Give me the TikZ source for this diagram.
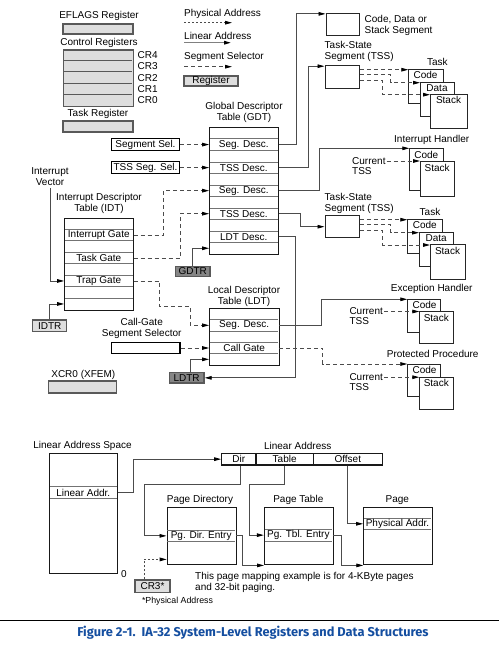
\documentclass[tikz,border=0pt]{standalone}
\usepackage{fontspec}
\setmainfont{Liberation Sans}
\newfontfamily\capfont{Fira Sans}
\usetikzlibrary{arrows.meta}
\definecolor{capblue}{RGB}{20,78,160}
\begin{document}
\begin{tikzpicture}[x=1pt,y=-1pt,
  lbl/.style={font=\fontsize{10}{11}\selectfont, inner sep=0pt, align=center},
  small/.style={font=\fontsize{8.8}{10}\selectfont, inner sep=0pt},
  reg/.style={draw=black!65, line width=1.4pt, fill=black!13, inner sep=0pt, font=\fontsize{10}{11}\selectfont},
  regd/.style={reg, fill=black!48},
  regsep/.style={draw=black!65, line width=1pt},
  tbl/.style={draw=black!90, line width=1.1pt, fill=white, inner sep=0pt},
  sep/.style={draw=black!55, line width=0.7pt},
  cell/.style={lbl, minimum width=69pt, minimum height=10pt},
  seg/.style={draw=black!85, line width=1pt, fill=white, inner sep=0pt},
  selb/.style={draw=black, line width=1.1pt, fill=white, inner sep=0pt, font=\fontsize{10}{11}\selectfont},
  lin/.style={draw=black!70, line width=0.85pt, -{Triangle[length=7pt,width=3.6pt,color=black]}},
  ss/.style={lin, dash pattern=on 4pt off 3pt},
  ph/.style={lin, dash pattern=on 2pt off 2pt}]
\useasboundingbox (0,0) rectangle (499,648);
\fill[white] (0,0) rectangle (499,648);

% ---------- registers (top left)
\node[lbl] (eflL) at (99,16) {EFLAGS Register};
\node[reg, minimum width=70pt, minimum height=10pt] (efl) at (98,29) {};
\node[lbl] (crL) at (99,42.5) {Control Registers};
\node[reg, minimum width=70pt, minimum height=56.7pt, anchor=north west] (cr) at (63,49.3) {};
\foreach \k in {1,...,4} \draw[regsep] (63.7,{49.3+\k*11.34}) -- (132.3,{49.3+\k*11.34});
\foreach \lab [count=\k from 0] in {CR4,CR3,CR2,CR1,CR0}
  \node[lbl, anchor=west] (crl\k) at (137.5,{49.3+(\k+0.5)*11.34}) {\lab};
\node[lbl] (trL) at (98,114) {Task Register};
\node[reg, minimum width=70pt, minimum height=11pt] (tr) at (98,126.5) {};

% ---------- legend
\node[lbl, anchor=west] (lg1) at (184,14) {Physical Address};
\coordinate (lp1) at (184,22.7); \coordinate (lp2) at (232,22.7);
\draw[ph] (lp1) -- (lp2);
\node[lbl, anchor=west] (lg2) at (184,35.5) {Linear Address};
\coordinate (ll1) at (184,42.7); \coordinate (ll2) at (231,42.7);
\draw[lin, draw=black!50, line width=1.3pt] (ll1) -- (ll2);
\node[lbl, anchor=west] (lg3) at (184,57) {Segment Selector};
\coordinate (ls1) at (184,66.7); \coordinate (ls2) at (232,66.7);
\draw[ss] (ls1) -- (ls2);
\node[reg, minimum width=54pt, minimum height=10pt] (lgreg) at (211,81) {Register};

% ---------- code/data/stack segment and top TSS
\node[seg, minimum width=33.3pt, minimum height=21.7pt] (cds) at (342.7,24.2) {};
\node[lbl, anchor=west, align=left] (cdsL) at (364.5,25.7) {Code, Data or\\Stack Segment};
\node[lbl, anchor=west, align=left] (tss1L) at (324.5,51.7) {Task-State\\Segment (TSS)};
\node[seg, minimum width=34.3pt, minimum height=22.6pt] (tss1) at (342.15,77) {};
\node[lbl] (task1L) at (437.3,61.5) {Task};
\node[seg, minimum width=34.4pt, minimum height=34pt, anchor=north west] (code1) at (408.3,68.7) {};
\node[lbl] (code1t) at (425.5,74.8) {Code};
\node[seg, minimum width=34pt, minimum height=34pt, anchor=north west] (data1) at (420,81.7) {};
\node[lbl] (data1t) at (437,87.7) {Data};
\node[seg, minimum width=37pt, minimum height=34pt, anchor=north west] (stack1) at (430,93.7) {};
\node[lbl] (stack1t) at (448.5,100) {Stack};
\coordinate (c1a) at ([yshift=-1pt]code1.north west);
\coordinate (d1a) at ([yshift=-1pt]data1.north west);
\coordinate (s1a) at ([yshift=-1pt]stack1.north west);
\draw[ss] (tss1.east |- c1a) -- (c1a);
\draw[ss] ([yshift=2.3pt]tss1.east) -- ++(30.7,0) |- (d1a);
\draw[ss] ([yshift=-3.7pt]tss1.east) -- ++(22.4,0) |- (s1a);

% ---------- GDT
\node[lbl] (gdtL) at (244,112.7) {Global Descriptor\\Table (GDT)};
\node[tbl, minimum width=69pt, minimum height=126.7pt, anchor=north west] (gdt) at (209.3,127.3) {};
\foreach \k in {1,...,10} \draw[sep] (210,{127.3+\k*11.52}) -- (277.6,{127.3+\k*11.52});
\node[cell] (gdt1) at (243.8,144.58) {Seg. Desc.};
\node[cell] (gdt3) at (243.8,167.62) {TSS Desc.};
\node[cell] (gdt5) at (243.8,190.66) {Seg. Desc.};
\node[cell] (gdt7) at (243.8,213.7) {TSS Desc.};
\node[cell] (gdt9) at (243.8,236.74) {LDT Desc.};
\node[cell] (gdt10) at (243.8,248.26) {};

\node[selb, minimum width=67.6pt, minimum height=11.7pt] (ssel) at (145.5,144.58) {Segment Sel.};
\node[selb, minimum width=67.6pt, minimum height=12pt] (tsel) at (145.5,167.62) {TSS Seg. Sel.};
\draw[ss] (ssel.east) -- (gdt1.west);
\draw[ss] (tsel.east) -- (gdt3.west);

\node[regd, minimum width=34.5pt, minimum height=10.2pt] (gdtr) at (192.7,271.4) {GDTR};
\draw[lin] (gdtr.north) |- (gdt10.west);

% ---------- IDT
\node[lbl] (ivL) at (50,177) {Interrupt\\Vector};
\coordinate (ivs) at (50,188);
\node[lbl] (idtL) at (99,203.2) {Interrupt Descriptor\\Table (IDT)};
\node[tbl, minimum width=69pt, minimum height=92pt, anchor=north west] (idt) at (64.3,217.7) {};
\foreach \k in {1,...,7} \draw[sep] (65,{217.7+\k*11.5}) -- (132.6,{217.7+\k*11.5});
\node[cell] (idt1) at (98.8,234.95) {Interrupt Gate};
\node[cell] (idt3) at (98.8,257.95) {Task Gate};
\node[cell] (idt5) at (98.8,280.95) {Trap Gate};
\node[cell] (idt7) at (98.8,303.95) {};
\draw[lin] (ivs) |- (idt5.west);
\node[reg, minimum width=34pt, minimum height=11.7pt] (idtr) at (49.7,325.8) {IDTR};
\draw[lin] (idtr.north) |- (idt7.west);

% ---------- LDT
\node[lbl] (ldtL) at (244,296.2) {Local Descriptor\\Table (LDT)};
\node[tbl, minimum width=69.7pt, minimum height=56.7pt, anchor=north west] (ldt) at (209.3,308.3) {};
\foreach \k in {1,...,4} \draw[sep] (210,{308.3+\k*11.34}) -- (278.3,{308.3+\k*11.34});
\node[cell, minimum width=69.7pt] (ldt1) at (244.15,325.31) {Seg. Desc.};
\node[cell, minimum width=69.7pt] (ldt3) at (244.15,347.99) {Call Gate};
\node[cell, minimum width=69.7pt] (ldt4) at (244.15,359.33) {};
\node[lbl] (cgL) at (141.7,328.8) {Call-Gate\\Segment Selector};
\node[selb, minimum width=68.3pt, minimum height=10.6pt] (cgsel) at (145.85,347.99) {};
\draw[ss] (cgsel.east) -- (ldt3.west);
\node[regd, minimum width=34.7pt, minimum height=10.3pt] (ldtr) at (186.65,377.85) {LDTR};
\draw[lin] ([xshift=3.3pt]ldtr.north) |- (ldt4.west);

\node[lbl] (xcrL) at (83.3,375) {XCR0 (XFEM)};
\node[reg, minimum width=68.4pt, minimum height=12pt] (xcr) at (82.5,387) {};

% ---------- Interrupt handler
\node[lbl] (ihL) at (431.7,140) {Interrupt Handler};
\node[seg, minimum width=34pt, minimum height=41.7pt, anchor=north west] (ihcode) at (409.3,148.3) {};
\node[lbl] (ihcodet) at (426.3,154.5) {Code};
\node[seg, minimum width=34.3pt, minimum height=35.3pt, anchor=north west] (ihstack) at (420,160.7) {};
\node[lbl] (ihstackt) at (437.2,167.5) {Stack};
\node[lbl, anchor=west] (ihcur) at (352,161) {Current};
\node[lbl, anchor=west] (ihtss) at (352,171) {TSS};
\draw[ss] ([xshift=1pt]ihcur.east) -- (ihcur.east -| ihstack.west);

% ---------- second TSS / task
\node[lbl, anchor=west, align=left] (tss2L) at (324.5,203) {Task-State\\Segment (TSS)};
\node[seg, minimum width=34.3pt, minimum height=22pt] (tss2) at (342.15,226.7) {};
\node[lbl] (task2L) at (430,212.3) {Task};
\node[seg, minimum width=35pt, minimum height=34pt, anchor=north west] (code2) at (407.3,218.7) {};
\node[lbl] (code2t) at (424.8,224.8) {Code};
\node[seg, minimum width=34.3pt, minimum height=34pt, anchor=north west] (data2) at (419,231.7) {};
\node[lbl] (data2t) at (436.2,238) {Data};
\node[seg, minimum width=35pt, minimum height=35pt, anchor=north west] (stack2) at (430,244) {};
\node[lbl] (stack2t) at (447.5,250.5) {Stack};
\coordinate (c2a) at ([yshift=-1pt]code2.north west);
\coordinate (d2a) at ([yshift=-1pt]data2.north west);
\coordinate (s2a) at ([yshift=-1pt]stack2.north west);
\draw[ss] (tss2.east |- c2a) -- (c2a);
\draw[ss] ([yshift=2pt]tss2.east) -- ++(30.7,0) |- (d2a);
\draw[ss] ([yshift=-4pt]tss2.east) -- ++(22.4,0) |- (s2a);

% ---------- Exception handler
\node[lbl] (ehL) at (431.7,289.3) {Exception Handler};
\node[seg, minimum width=32.7pt, minimum height=32.4pt, anchor=north west] (ehcode) at (407.3,299.3) {};
\node[lbl] (ehcodet) at (424.5,304.8) {Code};
\node[seg, minimum width=34pt, minimum height=32.3pt, anchor=north west] (ehstack) at (419.3,311) {};
\node[lbl] (ehstackt) at (436.3,317.7) {Stack};
\node[lbl, anchor=west] (ehcur) at (349.3,311.5) {Current};
\node[lbl, anchor=west] (ehtss) at (349.3,321.5) {TSS};
\draw[ss] ([xshift=1pt]ehcur.east) -- (ehcur.east -| ehstack.west);

% ---------- Protected procedure
\node[lbl] (ppL) at (432.7,354) {Protected Procedure};
\node[seg, minimum width=32.7pt, minimum height=32.4pt, anchor=north west] (ppcode) at (407.3,364) {};
\node[lbl] (ppcodet) at (424.5,369.5) {Code};
\node[seg, minimum width=34pt, minimum height=32.3pt, anchor=north west] (ppstack) at (419.3,376.7) {};
\node[lbl] (ppstackt) at (436.3,383.4) {Stack};
\node[lbl, anchor=west] (ppcur) at (349.3,377.2) {Current};
\node[lbl, anchor=west] (pptss) at (349.3,387.5) {TSS};
\draw[ss] ([xshift=1pt]ppcur.east) -- (ppcur.east -| ppstack.west);

% ---------- connectors from GDT / IDT / LDT
\coordinate (b3) at (190,306.7);
\draw[lin] (gdt1.east) -- ++(18.4,0) |- ([yshift=-1pt]cds.north west);
\draw[lin] (gdt3.east) -- ++(30,0) |- ([yshift=-1pt]tss1.north west);
\draw[lin] (gdt5.east) -- ++(41,0) |- (ihcode.north west);
\draw[lin] (gdt7.east) -- ++(21.7,0) |- (tss2.west);
\draw[lin] (gdt9.east) -- ++(16.7,0) |- (ldtr.east);
\draw[ss] (idt1.east) -- ++(30,0) |- (gdt5.west);
\draw[ss] (idt3.east) -- ++(46.7,0) |- (gdt7.west);
\draw[ss] (idt5.east) -- ++(26,0) |- (b3) |- (ldt1.west);
\draw[lin] (ldt1.east) -- ++(42,0) |- (ehcode.north west);
\draw[ss] (ldt3.east) -- ++(43.7,0) |- (ppcode.north west);

% ---------- paging (bottom)
\node[lbl] (lasL) at (82.5,445.7) {Linear Address Space};
\node[tbl, minimum width=68pt, minimum height=120pt, anchor=north west] (las) at (49.3,453.3) {};
\draw[sep] (50,486.7) -- (116.6,486.7);
\draw[sep] (50,498.3) -- (116.6,498.3);
\node[cell, minimum width=68pt] (laddr) at (83.3,492.5) {Linear Addr.};
\node[lbl] (zero) at (124,574) {0};

\node[lbl] (laL) at (297.7,445.7) {Linear Address};
\node[tbl, minimum width=34.3pt, minimum height=11.7pt, font=\fontsize{10}{11}\selectfont] (dir) at (238.85,459.15) {Dir};
\node[tbl, minimum width=57.3pt, minimum height=11.7pt, font=\fontsize{10}{11}\selectfont] (table) at (284.65,459.15) {Table};
\node[tbl, minimum width=69pt, minimum height=11.7pt, font=\fontsize{10}{11}\selectfont] (offset) at (347.8,459.15) {Offset};

\node[lbl] (pdL) at (200,500) {Page Directory};
\node[tbl, minimum width=69pt, minimum height=57pt, anchor=north west] (pd) at (166.7,507.3) {};
\draw[sep] (167.4,530) -- (235,530);
\draw[sep] (167.4,541.7) -- (235,541.7);
\node[cell] (pde) at (201.2,535.85) {Pg. Dir. Entry};

\node[lbl] (ptL) at (298.3,500) {Page Table};
\node[tbl, minimum width=68.7pt, minimum height=57pt, anchor=north west] (pt) at (264,507.3) {};
\draw[sep] (264.7,529.3) -- (332,529.3);
\draw[sep] (264.7,541) -- (332,541);
\node[cell, minimum width=68.7pt] (pte) at (298.35,535.15) {Pg. Tbl. Entry};

\node[lbl] (pgL) at (397.3,500) {Page};
\node[tbl, minimum width=68.4pt, minimum height=57pt, anchor=north west] (page) at (363.3,507.3) {};
\draw[sep] (364,518.3) -- (431,518.3);
\draw[sep] (364,529.3) -- (431,529.3);
\node[cell, minimum width=68.4pt] (paddr) at (397.5,523.8) {Physical Addr.};

\node[reg, minimum width=35pt, minimum height=12.3pt] (cr3) at (152.5,586.15) {CR3*};
\node[small] (physnote) at (177.5,601.7) {*Physical Address};
\node[lbl, anchor=west, align=left] (note) at (195,582) {This page mapping example is for 4-KByte pages\\and 32-bit paging.};

\coordinate (b1) at (144,484);
\coordinate (b2) at (249,484);
\draw[lin] (laddr.east) -- ++(16,0) |- (dir.west);
\draw[lin] ([xshift=1.8pt]dir.south) |- (b1) |- (pde.west);
\draw[lin] (table.south) |- (b2) |- (pte.west);
\draw[lin] (offset.south) |- (paddr.west);
\draw[lin] (pde.east) -- ++(6.3,0) |- (pt.south west);
\draw[lin] (pte.east) -- ++(8.3,0) |- (page.south west);
\draw[ph] ([xshift=-8.5pt]cr3.north) |- ([yshift=6pt]pd.south west);

% ---------- caption
\draw[line width=1.3pt] (0,620.7) -- (499,620.7);
\node[font=\capfont\bfseries\fontsize{12.8}{14}\selectfont, text=capblue, inner sep=0pt] (cap) at (253,632.5) {Figure 2-1.\ \ IA-32 System-Level Registers and Data Structures};
\end{tikzpicture}
\end{document}
